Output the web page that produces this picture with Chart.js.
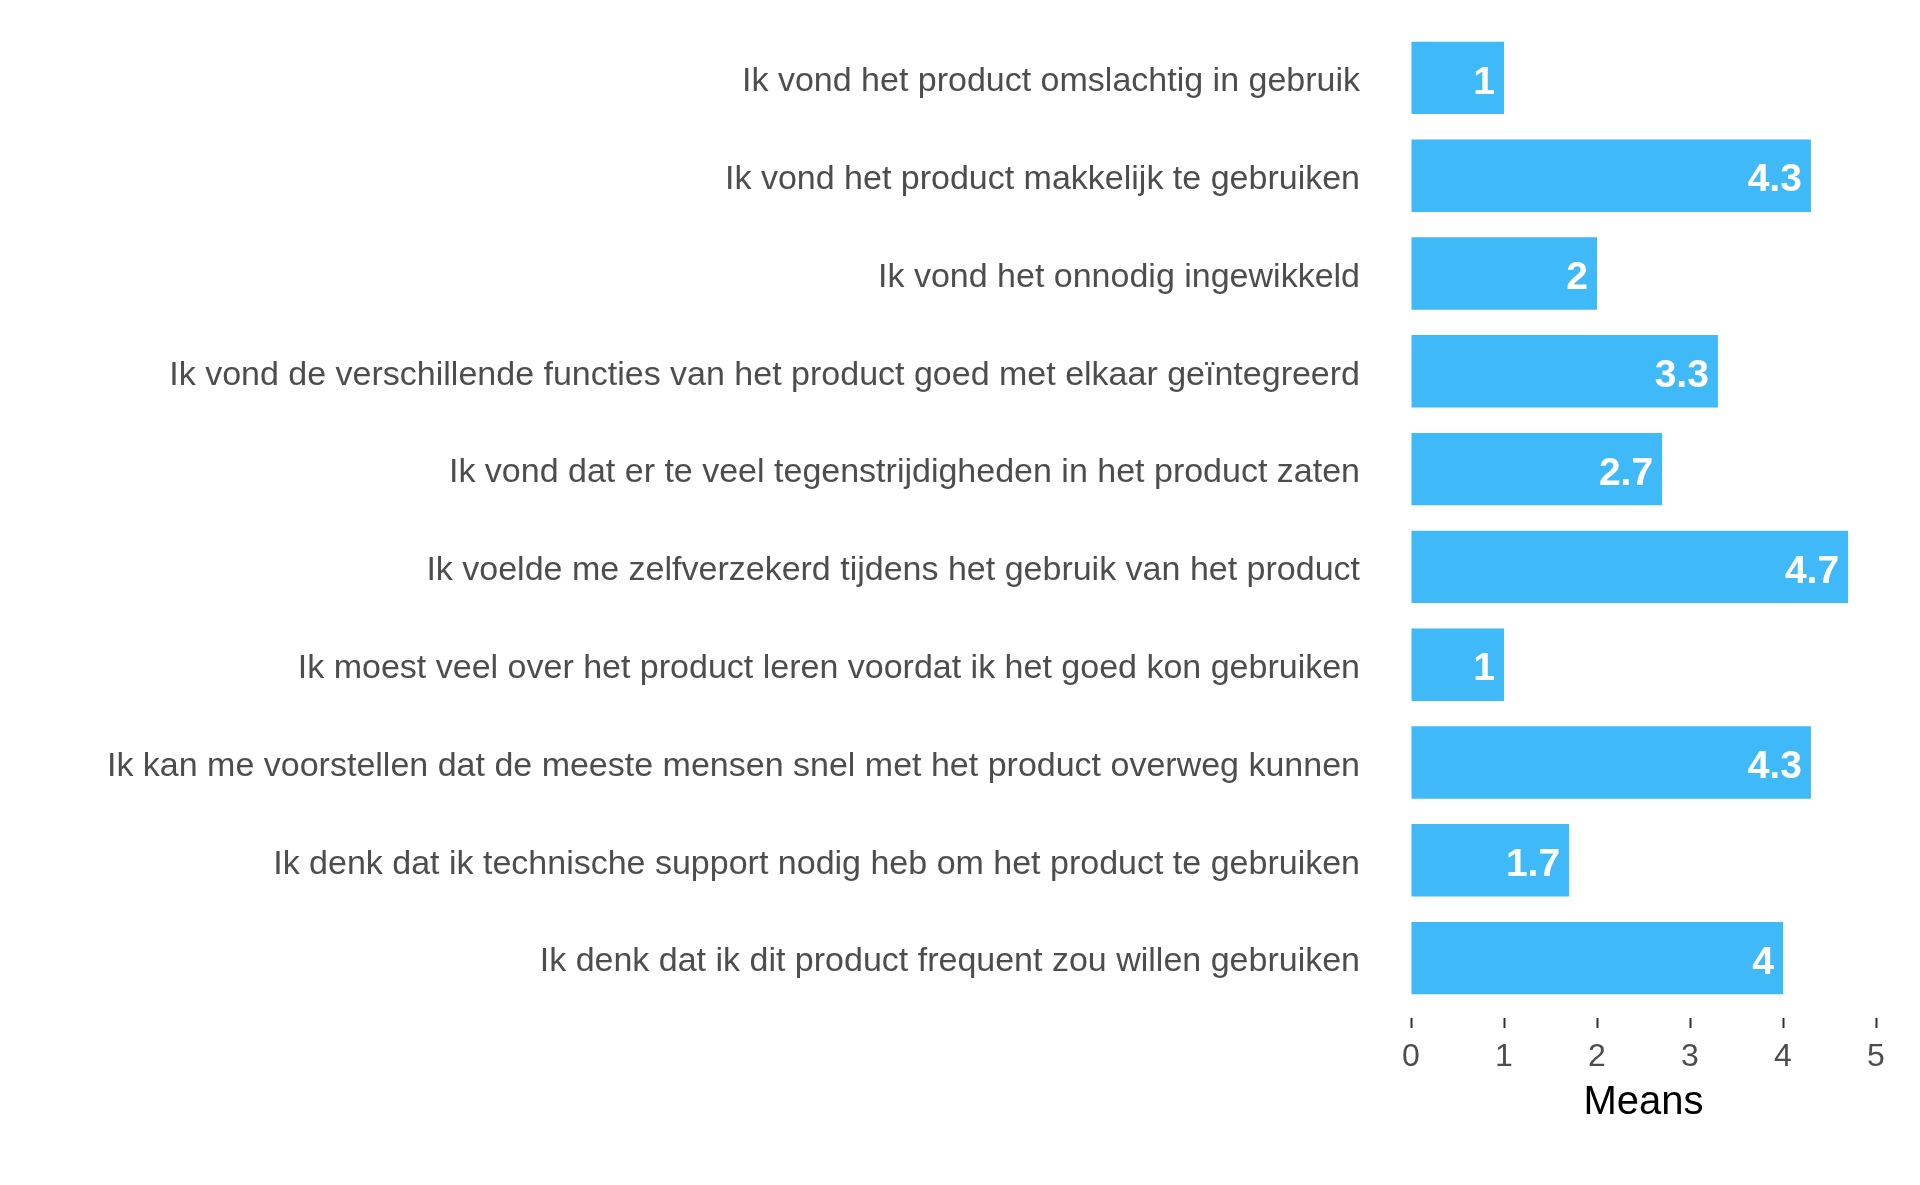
<!DOCTYPE html>
<html>
<head>
<meta charset="utf-8">
<script src="https://cdn.jsdelivr.net/npm/chart.js@4/dist/chart.umd.min.js"></script>
<style>
  html, body { margin: 0; padding: 0; background: #fff; }
  #wrap { width: 1920px; height: 1185px; }
</style>
</head>
<body>
<div id="wrap"><canvas id="myChart" width="1920" height="1185"></canvas></div>
<script>
const statements = [
  'Ik vond het product omslachtig in gebruik',
  'Ik vond het product makkelijk te gebruiken',
  'Ik vond het onnodig ingewikkeld',
  'Ik vond de verschillende functies van het product goed met elkaar geïntegreerd',
  'Ik vond dat er te veel tegenstrijdigheden in het product zaten',
  'Ik voelde me zelfverzekerd tijdens het gebruik van het product',
  'Ik moest veel over het product leren voordat ik het goed kon gebruiken',
  'Ik kan me voorstellen dat de meeste mensen snel met het product overweg kunnen',
  'Ik denk dat ik technische support nodig heb om het product te gebruiken',
  'Ik denk dat ik dit product frequent zou willen gebruiken'
];
const means = [1, 4.3, 2, 3.3, 2.7, 4.7, 1, 4.3, 1.7, 4];
const xTicks = [0, 1, 2, 3, 4, 5];

const barColor = 'rgb(63, 185, 248)';

// white value labels at the end of each bar
const valueLabels = {
  id: 'valueLabels',
  afterDatasetsDraw(chart) {
    const ctx = chart.ctx;
    const meta = chart.getDatasetMeta(0);
    ctx.save();
    ctx.fillStyle = '#ffffff';
    ctx.font = 'bold 39px "Liberation Sans", Arial, sans-serif';
    ctx.textAlign = 'right';
    ctx.textBaseline = 'middle';
    meta.data.forEach((bar, i) => {
      ctx.fillText(String(means[i]), bar.x - 9, bar.y + 5);
    });
    ctx.restore();
  }
};

const ctx = document.getElementById('myChart');

new Chart(ctx, {
  type: 'bar',
  data: {
    labels: statements,
    datasets: [{
      data: means,
      backgroundColor: barColor,
      borderWidth: 0,
      categoryPercentage: 0.74,
      barPercentage: 1
    }]
  },
  plugins: [valueLabels],
  options: {
    indexAxis: 'y',
    responsive: false,
    animation: false,
    devicePixelRatio: 1,
    layout: {
      padding: { top: 29, right: 44, left: 0, bottom: 0 }
    },
    plugins: {
      legend: { display: false },
      tooltip: { enabled: false }
    },
    scales: {
      x: {
        min: 0,
        max: 5,
        afterBuildTicks(scale) {
          scale.ticks = xTicks.map(v => ({ value: v }));
        },
        afterFit(scale) {
          scale.height = 178;
        },
        border: { display: false },
        grid: {
          drawOnChartArea: false,
          drawTicks: true,
          tickLength: 21,
          tickColor: '#333333',
          tickWidth: 2,
          tickBorderDash: [0, 11, 10, 100]
        },
        ticks: {
          color: '#4d4d4d',
          padding: 10,
          font: { family: '"Liberation Sans", Arial, sans-serif', size: 32 }
        },
        title: {
          display: true,
          text: 'Means',
          color: '#000000',
          padding: { top: 0, bottom: 58 },
          font: { family: '"Liberation Sans", Arial, sans-serif', size: 40 }
        }
      },
      y: {
        afterFit(scale) {
          scale.width = 1411;
          scale.paddingTop = 0;
          scale.paddingBottom = 0;
        },
        border: { display: false },
        grid: { display: false, drawTicks: false },
        ticks: {
          color: '#4d4d4d',
          padding: 51,
          labelOffset: 4,
          font: { family: '"Liberation Sans", Arial, sans-serif', size: 34 }
        }
      }
    }
  }
});
</script>
</body>
</html>
